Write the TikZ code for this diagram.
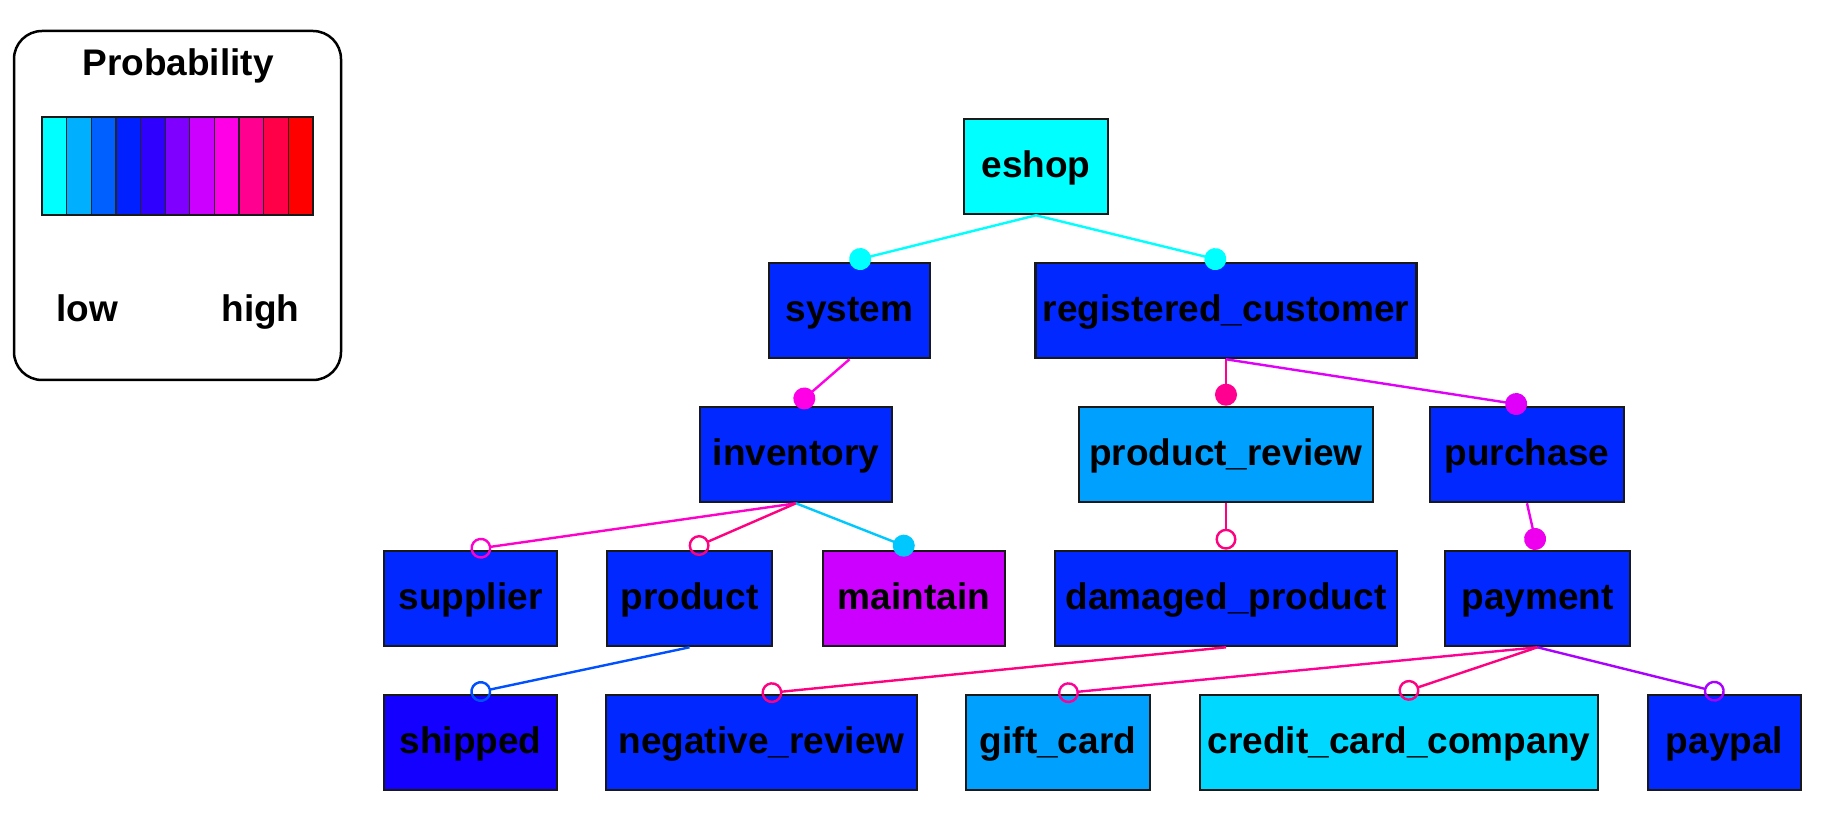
\documentclass[tikz,border=0pt]{standalone}
\usepackage{fontspec}
\setmainfont{Liberation Sans}
\usetikzlibrary{arrows.meta}
% node fills
\definecolor{nBlue}{RGB}{0,40,255}
\definecolor{nCyan}{RGB}{0,255,255}
\definecolor{nShip}{RGB}{20,0,255}
\definecolor{nMaint}{RGB}{204,0,255}
\definecolor{nSky}{RGB}{0,160,255}
\definecolor{nCredit}{RGB}{0,216,255}
% edge colours
\definecolor{eCyan}{RGB}{0,255,255}
\definecolor{eMag}{RGB}{255,0,230}
\definecolor{eDeep}{RGB}{255,0,144}
\definecolor{eViolet}{RGB}{224,0,250}
\definecolor{eMagPink}{RGB}{255,0,204}
\definecolor{ePink}{RGB}{255,0,128}
\definecolor{eLight}{RGB}{0,200,255}
\definecolor{ePurMag}{RGB}{238,0,238}
\definecolor{eBlue}{RGB}{0,80,255}
\definecolor{eGift}{RGB}{255,0,150}
\definecolor{ePurple}{RGB}{170,0,255}
% legend scale
\definecolor{lc0}{RGB}{0,255,255}
\definecolor{lc1}{RGB}{0,176,255}
\definecolor{lc2}{RGB}{0,96,255}
\definecolor{lc3}{RGB}{0,32,255}
\definecolor{lc4}{RGB}{48,0,255}
\definecolor{lc5}{RGB}{128,0,255}
\definecolor{lc6}{RGB}{204,0,255}
\definecolor{lc7}{RGB}{255,0,230}
\definecolor{lc8}{RGB}{255,0,144}
\definecolor{lc9}{RGB}{255,0,72}
\definecolor{lc10}{RGB}{255,0,0}
\begin{document}
\begin{tikzpicture}[x=1pt,y=-1pt,
  font=\fontsize{37}{44}\selectfont\bfseries,
  box/.style={draw=black!90, line width=2.6pt, rectangle, minimum height=95pt,
    inner sep=0pt, text height=21.6pt, text depth=0pt},
  edge/.style={line width=2.4pt},
  dotend/.style={-{Circle[length=22pt]}},
  odotend/.style={-{Circle[open,length=21pt]}}
]
\useasboundingbox (0,0) rectangle (1832,818);

% ---------- legend ----------
\draw[line width=2.5pt, rounded corners=28pt] (14,31) rectangle (341,380);
\node[anchor=base] (legtitle) at (178,76) {Probability};
\foreach \c [count=\i from 0] in {lc0,lc1,lc2,lc3,lc4,lc5,lc6,lc7,lc8,lc9,lc10}{
  \fill[\c] ({42+\i*24.636},117) rectangle ({42+(\i+1)*24.636},215);
  \draw[line width=1.2pt, black!85] ({42+\i*24.636},117) -- ({42+\i*24.636},215);
}
\draw[line width=2.5pt, black!90] (42,117) rectangle (313,215);
\node[anchor=base] (leglow) at (87,322) {low};
\node[anchor=base] (leghigh) at (260.5,322) {high};

% ---------- nodes ----------
\node[box, fill=nCyan,   minimum width=144pt] (eshop)    at (1036,166.5) {eshop};
\node[box, fill=nBlue,   minimum width=161pt] (system)   at (849.5,310.5) {system};
\node[box, fill=nBlue,   minimum width=381pt] (regcust)  at (1226,310.5) {registered\_customer};
\node[box, fill=nBlue,   minimum width=192pt] (inventory) at (796,454.5) {inventory};
\node[box, fill=nSky,    minimum width=294pt] (prodrev)  at (1226,454.5) {product\_review};
\node[box, fill=nBlue,   minimum width=194pt] (purchase) at (1527,454.5) {purchase};
\node[box, fill=nBlue,   minimum width=173pt] (supplier) at (470.5,598.5) {supplier};
\node[box, fill=nBlue,   minimum width=165pt] (product)  at (689.5,598.5) {product};
\node[box, fill=nMaint,  minimum width=182pt] (maintain) at (914,598.5) {maintain};
\node[box, fill=nBlue,   minimum width=342pt] (damaged)  at (1226,598.5) {damaged\_product};
\node[box, fill=nBlue,   minimum width=185pt] (payment)  at (1537.5,598.5) {payment};
\node[box, fill=nShip,   minimum width=173pt] (shipped)  at (470.5,742.5) {shipped};
\node[box, fill=nBlue,   minimum width=311pt] (negrev)   at (761.5,742.5) {negative\_review};
\node[box, fill=nSky,    minimum width=184pt] (giftcard) at (1058,742.5) {gift\_card};
\node[box, fill=nCredit, minimum width=398pt] (credit)   at (1399,742.5) {credit\_card\_company};
\node[box, fill=nBlue,   minimum width=153pt] (paypal)   at (1724.5,742.5) {paypal};

% ---------- edges ----------
\draw[edge, eCyan, dotend]     (eshop.south) -- (system.north);
\draw[edge, eCyan, dotend]     (eshop.south) -- (regcust.north);
\draw[edge, eMag, dotend]      (system.south) -- (inventory.north);
\draw[edge, eDeep, dotend]     (regcust.south) -- (prodrev.north);
\draw[edge, eViolet, dotend]   (regcust.south) -- (purchase.north);
\draw[edge, eMagPink, odotend] (inventory.south) -- (supplier.north);
\draw[edge, ePink, odotend]    (inventory.south) -- (product.north);
\draw[edge, eLight, dotend]    (inventory.south) -- (maintain.north);
\draw[edge, ePink, odotend]    (prodrev.south) -- (damaged.north);
\draw[edge, ePurMag, dotend]   (purchase.south) -- (payment.north);
\draw[edge, eBlue, odotend]    (product.south) -- (shipped.north);
\draw[edge, ePink, odotend]    (damaged.south) -- (negrev.north);
\draw[edge, eGift, odotend]    (payment.south) -- (giftcard.north);
\draw[edge, ePink, odotend]    (payment.south) -- (credit.north);
\draw[edge, ePurple, odotend]  (payment.south) -- (paypal.north);
\end{tikzpicture}
\end{document}
